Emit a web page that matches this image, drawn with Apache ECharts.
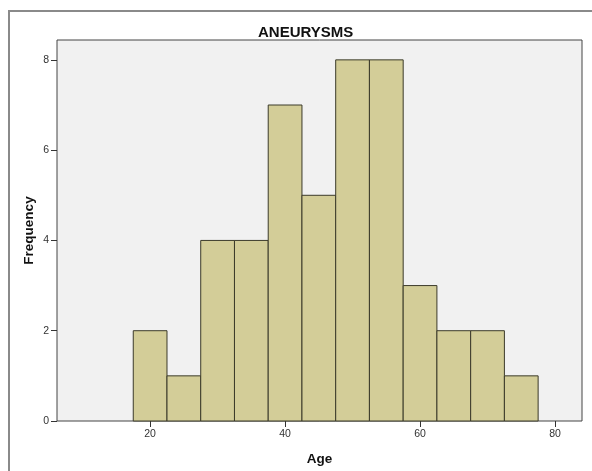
<!DOCTYPE html>
<html>
<head>
<meta charset="utf-8">
<script src="https://cdn.jsdelivr.net/npm/echarts@6/dist/echarts.min.js"></script>
<style>
html,body{margin:0;padding:0;background:#fff;}
#chart{width:592px;height:471px;}
</style>
</head>
<body>
<div id="chart"></div>
<script>
var binLower = [17.5, 22.5, 27.5, 32.5, 37.5, 42.5, 47.5, 52.5, 57.5, 62.5, 67.5, 72.5];
var binUpper = [22.5, 27.5, 32.5, 37.5, 42.5, 47.5, 52.5, 57.5, 62.5, 67.5, 72.5, 77.5];
var counts   = [2, 1, 4, 4, 7, 5, 8, 8, 3, 2, 2, 1];
var xTicks = [20, 40, 60, 80];
var yTicks = [0, 2, 4, 6, 8];

var data = binLower.map(function (lo, i) { return [lo, binUpper[i], counts[i]]; });

var chart = echarts.init(document.getElementById('chart'));
chart.setOption({
  backgroundColor: '#ffffff',
  textStyle: { fontFamily: 'Liberation Sans, Arial, sans-serif' },
  title: {
    text: 'ANEURYSMS',
    left: 253,
    top: 20,
    textStyle: { fontSize: 15, fontWeight: 'bold', color: '#111', fontFamily: 'Liberation Sans, Arial, sans-serif' }
  },
  graphic: [{
    type: 'rect',
    silent: true,
    shape: { x: 9, y: 11, width: 620, height: 520 },
    style: { fill: 'none', stroke: '#8a8a8a', lineWidth: 2 }
  }],
  grid: {
    left: 57, right: 10, top: 40, bottom: 46,
    show: true,
    backgroundColor: '#f1f1f1',
    borderColor: '#444',
    borderWidth: 1
  },
  xAxis: {
    type: 'value',
    min: 6.2,
    max: 84,
    name: 'Age',
    nameLocation: 'middle',
    nameGap: 31,
    nameMoveOverlap: false,
    nameTextStyle: { fontSize: 13.5, fontWeight: 'bold', color: '#111' },
    axisLine: { show: false },
    splitLine: { show: false },
    axisTick: { show: true, customValues: xTicks, length: 6, lineStyle: { color: '#333' } },
    axisLabel: { customValues: xTicks, color: '#333', fontSize: 10.5, margin: 8 }
  },
  yAxis: {
    type: 'value',
    min: 0,
    max: 8.44,
    name: 'Frequency',
    nameLocation: 'middle',
    nameGap: 21,
    nameMoveOverlap: false,
    nameRotate: 90,
    nameTextStyle: { fontSize: 13.5, fontWeight: 'bold', color: '#111' },
    axisLine: { show: false },
    splitLine: { show: false },
    axisTick: { show: true, customValues: yTicks, length: 6, lineStyle: { color: '#333' } },
    axisLabel: { customValues: yTicks, color: '#333', fontSize: 10.5, margin: 8 }
  },
  series: [{
    type: 'custom',
    data: data,
    encode: { x: [0, 1], y: 2 },
    renderItem: function (params, api) {
      var p0 = api.coord([api.value(0), 0]);
      var p1 = api.coord([api.value(1), api.value(2)]);
      return {
        type: 'rect',
        shape: { x: p0[0], y: p1[1], width: p1[0] - p0[0], height: p0[1] - p1[1] },
        style: { fill: '#d3cd98', stroke: '#3b3a2a', lineWidth: 1 }
      };
    }
  }]
});
</script>
</body>
</html>
